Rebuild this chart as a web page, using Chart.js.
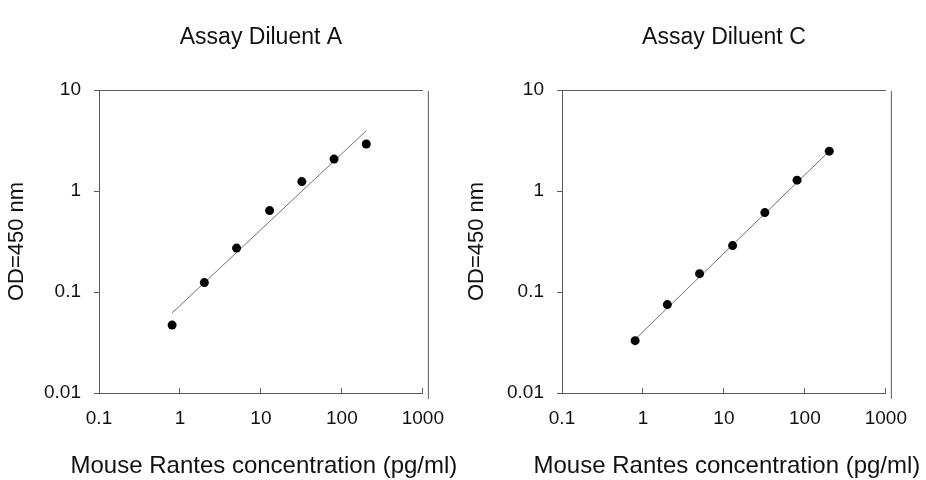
<!DOCTYPE html>
<html>
<head>
<meta charset="utf-8">
<script src="https://cdn.jsdelivr.net/npm/chart.js@4.4.1/dist/chart.umd.min.js"></script>
<style>
  body { margin: 0; background: #fff; }
  .panel { position: absolute; top: 0; width: 463px; height: 480px; }
</style>
</head>
<body>
<div class="panel" style="left:0"><canvas id="chartA"></canvas></div>
<div class="panel" style="left:463px"><canvas id="chartC"></canvas></div>
<script>
// standard curve, concentrations in pg/ml
const concentrations = [0.8, 2, 5, 12.8, 32, 80, 200];
const odDiluentA = [0.047, 0.124, 0.272, 0.64, 1.24, 2.07, 2.92];
const odDiluentC = [0.033, 0.075, 0.152, 0.288, 0.611, 1.28, 2.48];

const fitX = [0.8, 200];
const fitA = [0.062, 3.95];
const fitC = [0.034, 2.48];

const xTicks = [0.1, 1, 10, 100, 1000];
const yTicks = [0.01, 0.1, 1, 10];

const xTitle = 'Mouse Rantes concentration (pg/ml)';

const FONT = 'Arial, "Liberation Sans", sans-serif';
const AXIS = '#5a5a5a';

// top line and the loose right line of the frame, plus the x title
// (the scale title squeezes it to the plot width, the original runs wider)
const framePlugin = {
  id: 'frame',
  afterDraw(chart) {
    const a = chart.chartArea, ctx = chart.ctx;
    const xs = chart.scales.x;
    ctx.save();
    ctx.strokeStyle = AXIS;
    ctx.lineWidth = 1;
    ctx.beginPath();
    ctx.moveTo(a.left, a.top + 0.5);
    ctx.lineTo(a.right, a.top + 0.5);
    ctx.moveTo(a.right + 5.5, a.top + 1);
    ctx.lineTo(a.right + 5.5, a.bottom + 6);
    ctx.stroke();

    ctx.fillStyle = '#111';
    ctx.font = '24px ' + FONT;
    ctx.textAlign = 'center';
    ctx.textBaseline = 'alphabetic';
    ctx.fillText(xTitle, (xs.left + xs.right) / 2 + 3, xs.bottom - 7);
    ctx.restore();
  }
};

function pairs(xs, ys) {
  return xs.map((x, i) => ({ x: x, y: ys[i] }));
}

function makeChart(id, title, points, fit, yTitlePad) {
  new Chart(document.getElementById(id), {
    type: 'scatter',
    data: {
      datasets: [{
        data: pairs(concentrations, points),
        pointRadius: 4.5,
        pointBackgroundColor: '#000',
        pointBorderWidth: 0,
        showLine: false
      }, {
        data: pairs(fitX, fit),
        showLine: true,
        borderColor: '#707070',
        borderWidth: 1,
        pointRadius: 0
      }]
    },
    options: {
      responsive: true,
      maintainAspectRatio: false,
      animation: false,
      layout: { padding: { left: 0, right: 40, top: 0, bottom: 0 } },
      plugins: {
        legend: { display: false },
        tooltip: { enabled: false },
        title: {
          display: true,
          text: title,
          fullSize: false,
          color: '#111',
          font: { family: FONT, size: 23, weight: 'normal' },
          padding: { top: 23.7, bottom: 38.7 }
        }
      },
      scales: {
        x: {
          type: 'logarithmic',
          min: 0.1,
          max: 1000,
          afterBuildTicks: s => { s.ticks = xTicks.map(v => ({ value: v })); },
          afterFit: s => { s.height = 87; },
          border: { color: AXIS, width: 1 },
          grid: { drawOnChartArea: false, tickLength: -5, color: AXIS },
          ticks: {
            padding: 19,
            color: '#111',
            font: { family: FONT, size: 19 },
            maxRotation: 0,
            callback: v => String(v)
          },
          title: { display: false }
        },
        y: {
          type: 'logarithmic',
          min: 0.01,
          max: 10,
          afterBuildTicks: s => { s.ticks = yTicks.map(v => ({ value: v })); },
          afterFit: s => { s.width = 99; },
          border: { color: AXIS, width: 1 },
          grid: { drawOnChartArea: false, tickLength: 5, color: AXIS },
          ticks: {
            padding: 13,
            color: '#111',
            font: { family: FONT, size: 19 },
            callback: v => String(v)
          },
          title: {
            display: true,
            text: 'OD=450 nm',
            color: '#111',
            font: { family: FONT, size: 22 },
            padding: { top: yTitlePad, bottom: 0 }
          }
        }
      }
    },
    plugins: [framePlugin]
  });
}

makeChart('chartA', 'Assay Diluent A', odDiluentA, fitA, 4);
makeChart('chartC', 'Assay Diluent C', odDiluentC, fitC, 1);
</script>
</body>
</html>
